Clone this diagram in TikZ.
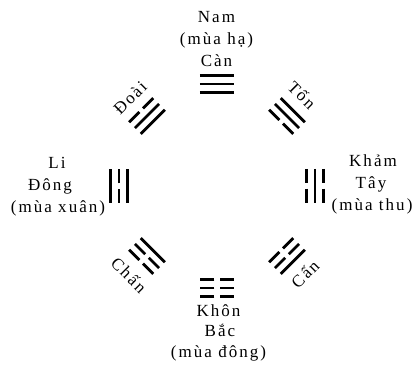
\documentclass[tikz,border=0pt]{standalone}
\usepackage{fontspec}
\setmainfont{Liberation Serif}[LetterSpace=12]
\newcommand\yaoline[2]{%
  \ifnum#2=1
    \draw[yao] (-17,#1) -- (17,#1);
  \else
    \draw[yao] (-17,#1) -- (-2.6,#1) (2.6,#1) -- (17,#1);
  \fi}
\newcommand\trigram[5]{% angle, radius, bottom, middle, top
  \begin{scope}[shift={(#1:#2)}, rotate=#1-90]
    \yaoline{-8.2}{#3}\yaoline{0}{#4}\yaoline{8.2}{#5}
  \end{scope}}
\begin{document}
\begin{tikzpicture}[x=1pt,y=1pt,
  yao/.style={line width=2.8pt, line cap=butt},
  lbl/.style={font=\fontsize{17}{20}\selectfont, inner sep=0pt, anchor=base},
  rlbl/.style={font=\fontsize{17}{20}\selectfont, inner sep=0pt, anchor=center}]
\useasboundingbox (-217,-181) rectangle (199,186);
% trigrams (bottom line toward centre)
\trigram{90}{102}{1}{1}{1}   % Càn
\trigram{135}{99}{1}{1}{0}   % Đoài
\trigram{180}{98}{1}{0}{1}   % Li
\trigram{225}{99}{1}{0}{0}   % Chấn
\trigram{270}{102}{0}{0}{0}  % Khôn
\trigram{315}{99}{0}{0}{1}   % Cấn
\trigram{0}{98}{0}{1}{0}     % Khảm
\trigram{45}{99}{0}{1}{1}    % Tốn
% top
\node[lbl] (nam) at (-0.5,163) {Nam};
\node[lbl] (muaha) at (-0.5,141) {(mùa hạ)};
\node[lbl] (can) at (-0.5,119) {Càn};
% left
\node[lbl] (li) at (-160,17) {Li};
\node[lbl] (dong) at (-167,-5) {Đông};
\node[lbl] (muaxuan) at (-159,-27) {(mùa xuân)};
% right
\node[lbl] (kham) at (156,19) {Khảm};
\node[lbl] (tay) at (154,-3) {Tây};
\node[lbl] (muathu) at (155,-25) {(mùa thu)};
% bottom
\node[lbl] (khon) at (1.5,-131) {Khôn};
\node[lbl] (bac) at (3,-151) {Bắc};
\node[lbl] (muadong) at (1.5,-172) {(mùa đông)};
% diagonal labels
\node[rlbl, rotate=45] (doai) at (-87,88) {Đoài};
\node[rlbl, rotate=-45] (ton) at (85,91) {Tốn};
\node[rlbl, rotate=-45] (chan) at (-88,-89) {Chấn};
\node[rlbl, rotate=45] (gen) at (88,-88) {Cấn};
\end{tikzpicture}
\end{document}
